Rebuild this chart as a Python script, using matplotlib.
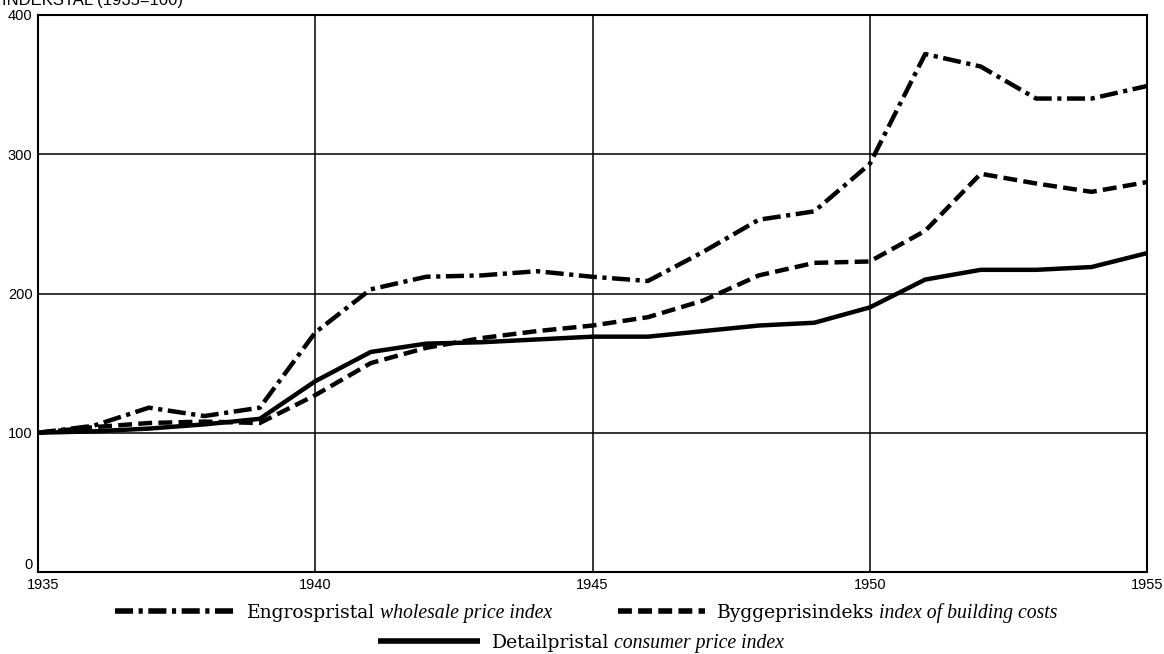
import matplotlib
matplotlib.use("Agg")
import matplotlib.pyplot as plt
from matplotlib.lines import Line2D
from matplotlib.transforms import ScaledTranslation

plt.rcParams['lines.scale_dashes'] = False

years = list(range(1935, 1956))
wholesale = [100, 105, 118, 112, 118, 172, 203, 212, 213, 216, 212, 209, 230, 253, 259, 293,
             372, 363, 340, 340, 349]
building = [100, 104, 107, 108, 107, 127, 150, 161, 168, 173, 177, 183, 195, 213, 222, 223,
            245, 286, 279, 273, 280]
consumer = [100, 101, 103, 106, 110, 137, 158, 164, 165, 167, 169, 169, 173, 177, 179, 190,
            210, 217, 217, 219, 229]

x_ticks = [1935, 1940, 1945, 1950, 1955]
y_ticks = [0, 100, 200, 300, 400]
ylabel_text = "INDEKSTAL (1935=100)"
labels_dk = ["Engrospristal", "Byggeprisindeks", "Detailpristal"]
labels_en = ["wholesale price index", "index of building costs", "consumer price index"]

DASHDOT = (0, (13, 4, 3, 4))
DASHED = (0, (10, 4.5))

W, H = 1164, 654
fig = plt.figure(figsize=(W/100, H/100), dpi=100)
ax = fig.add_axes([38/W, 1-572/H, (1147-38)/W, (572-15)/H])

ax.plot(years, wholesale, color='black', lw=3.2, linestyle=DASHDOT, dash_capstyle='butt')
ax.plot(years, building, color='black', lw=3.2, linestyle=DASHED, dash_capstyle='butt')
ax.plot(years, consumer, color='black', lw=3.2, solid_joinstyle='round')

ax.set_xlim(1935, 1955)
ax.set_ylim(0, 400)
ax.set_xticks(x_ticks)
ax.set_yticks(y_ticks)
ax.set_xticklabels([str(v) for v in x_ticks], fontfamily='Liberation Sans', fontsize=10.5)
ax.set_yticklabels([str(v) for v in y_ticks], fontfamily='Liberation Sans', fontsize=10.5)
ax.tick_params(length=0, pad=4)
ax.grid(True, color='black', lw=1.1)
for s in ax.spines.values():
    s.set_linewidth(1.5)

# "0" sits just above the x-axis, "1935" slightly right of the axis corner
ylabs = ax.get_yticklabels()
ylabs[0].set_verticalalignment('bottom')
xlabs = ax.get_xticklabels()
xlabs[0].set_transform(xlabs[0].get_transform() + ScaledTranslation(5/100, 0, fig.dpi_scale_trans))

fig.text(0.002, 1.0, ylabel_text, fontfamily='Liberation Sans', fontsize=12, va='center', ha='left')

renderer = fig.canvas.get_renderer()

def legend_entry(x0, x1, y, style, label_dk, label_en):
    yf = 1 - y/H
    line = Line2D([x0/W, x1/W], [yf, yf], transform=fig.transFigure, color='black',
                  lw=4, linestyle=style, dash_capstyle='butt', solid_capstyle='butt')
    fig.add_artist(line)
    t = fig.text((x1 + 12)/W, yf, label_dk, fontfamily='DejaVu Serif', fontsize=13.5,
                 va='center_baseline', ha='left')
    bb = t.get_window_extent(renderer=renderer)
    fig.text((bb.x1 + 5)/W, yf, label_en, fontfamily='Liberation Serif', style='italic',
             fontsize=14.2, va='center_baseline', ha='left')

legend_entry(115, 235, 611, DASHDOT, labels_dk[0], labels_en[0])
legend_entry(618, 705, 611, DASHED, labels_dk[1], labels_en[1])
legend_entry(378, 480, 641, '-', labels_dk[2], labels_en[2])

fig.savefig("out.png", dpi=100)
